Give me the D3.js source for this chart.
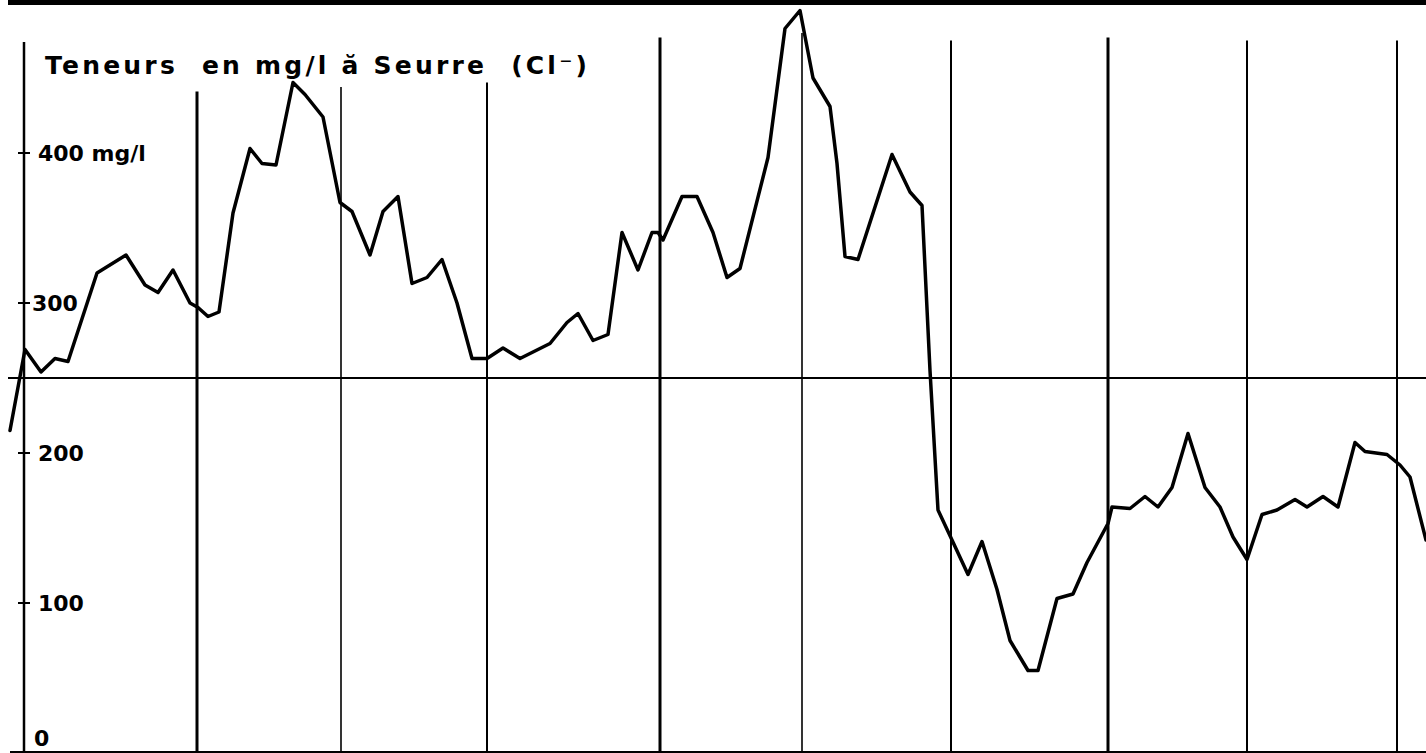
<!DOCTYPE html>
<html>
<head>
<meta charset="utf-8">
<script src="https://cdn.jsdelivr.net/npm/d3@7"></script>
<style>
    body { margin: 0; background: #fff; }
    #chart-area text { font-family: "DejaVu Sans", sans-serif; fill: #000; }
</style>
</head>
<body>
<div id="chart-area"></div>
<script>
// sample day (counted from the left axis) and chloride content in mg/l
const sampleDay = [-2.8, 0.2, 3.4, 6.2, 8.8, 14.6, 20.4, 24.2, 26.8, 29.8, 33.2, 34.8, 36.8, 39,
    41.8, 45.2, 47.6, 50.4, 53.8, 56.2, 59.8, 63.2, 65.6, 69.2, 71.8, 74.8, 77.6, 80.6, 83.6, 86.6,
    89.6, 92.6, 95.8, 99.2, 105.2, 108.6, 110.8, 113.8, 116.8, 119.6, 122.8, 125.6, 126.8, 127.8,
    131.6, 134.6, 137.8, 140.6, 143.2, 148.8, 152.2, 155.2, 157.8, 161.2, 162.6, 164.2, 166.8,
    173.6, 177.2, 179.6, 181.2, 182.8, 185.6, 188.8, 191.6, 194.6, 197.2, 200.8, 202.8, 206.6,
    209.8, 212.6, 216.8, 217.6, 221.2, 224.2, 226.8, 229.6, 232.8, 236.2, 239.2, 241.8, 244.6,
    247.6, 250.6, 254.2, 256.6, 259.8, 262.8, 266.2, 268.2, 272.6, 275.2, 277.2, 280.4];

const chlorideMgL = [215, 269, 254, 263, 261, 320, 332, 312, 307, 322, 300, 297, 291, 294,
    360, 403, 393, 392, 447, 439, 424, 367, 361, 332, 361, 371, 313, 317, 329, 300,
    263, 263, 270, 263, 273, 287, 293, 275, 279, 347, 322, 347, 347, 342,
    371, 371, 347, 317, 323, 397, 483, 495, 450, 431, 393, 331, 329,
    399, 374, 365, 255, 162, 142, 119, 141, 109, 75, 55, 55, 103,
    106, 127, 153, 164, 163, 171, 164, 177, 213, 177, 164, 144, 129,
    159, 162, 169, 164, 171, 164, 207, 201, 199, 192, 184, 142];

// vertical rulings (day) and the level where each one starts (mg/l)
const gridDays = [34.6, 63.4, 92.6, 127.2, 155.6, 185.4, 216.8, 244.6, 274.6];
const gridTops = [441, 444, 447, 477, 480, 475, 477, 475, 475];
const gridWeight = [3, 1.6, 2, 3, 1.6, 2, 3, 2, 2];

const tickValues = [400, 300, 200, 100, 0];
const tickLabels = ["400 mg/l", "300", "200", "100", "0"];
const referenceLevel = 250;
const axisTop = 474;

const titleText = "Teneurs  en mg/l ă Seurre  (Cl\u207B)";

class ChlorideChart {
    constructor(parentElement) {
        this.parentElement = parentElement;
        this.data = sampleDay.map((d, i) => ({ day: d, value: chlorideMgL[i] }));
        this.initVis();
    }

    initVis() {
        let vis = this;

        vis.width = 1426;
        vis.height = 753;

        vis.svg = d3.select("#" + vis.parentElement).append("svg")
            .attr("width", vis.width)
            .attr("height", vis.height);

        vis.x = d3.scaleLinear()
            .domain([0, 280.4])
            .range([24, 1426]);

        vis.y = d3.scaleLinear()
            .domain([0, 400])
            .range([753, 153]);

        // heavy rule along the top of the sheet
        vis.svg.append("rect")
            .attr("x", 8)
            .attr("y", 0)
            .attr("width", vis.width - 8)
            .attr("height", 5)
            .attr("fill", "#000");

        vis.updateVis();
    }

    updateVis() {
        let vis = this;

        // vertical rulings
        vis.svg.selectAll(".grid-v")
            .data(gridDays)
            .enter().append("line")
            .attr("class", "grid-v")
            .attr("x1", d => vis.x(d))
            .attr("x2", d => vis.x(d))
            .attr("y1", (d, i) => vis.y(gridTops[i]))
            .attr("y2", vis.y(0))
            .attr("stroke", "#000")
            .attr("stroke-width", (d, i) => gridWeight[i]);

        // 250 mg/l reference and base line
        vis.svg.append("line")
            .attr("x1", vis.x(-3.2)).attr("x2", vis.width)
            .attr("y1", vis.y(referenceLevel)).attr("y2", vis.y(referenceLevel))
            .attr("stroke", "#000").attr("stroke-width", 2);

        vis.svg.append("line")
            .attr("x1", vis.x(-2.8)).attr("x2", vis.width)
            .attr("y1", vis.y(0) - 1).attr("y2", vis.y(0) - 1)
            .attr("stroke", "#000").attr("stroke-width", 2);

        // y axis
        vis.svg.append("line")
            .attr("x1", vis.x(0)).attr("x2", vis.x(0))
            .attr("y1", vis.y(axisTop)).attr("y2", vis.y(0))
            .attr("stroke", "#000").attr("stroke-width", 2.5);

        let ticks = vis.svg.selectAll(".tick")
            .data(tickValues)
            .enter().append("g")
            .attr("class", "tick")
            .attr("transform", d => `translate(${vis.x(0)}, ${vis.y(d)})`);

        ticks.filter(d => d > 0).append("line")
            .attr("x1", -6).attr("x2", 6)
            .attr("stroke", "#000").attr("stroke-width", 2);

        ticks.append("text")
            .attr("x", d => d === 300 ? 8 : (d === 0 ? 10 : 14))
            .attr("y", d => d === 0 ? -7 : 8)
            .attr("font-size", 22)
            .attr("font-weight", "bold")
            .style("white-space", "pre")
            .text((d, i) => tickLabels[i]);

        // title
        vis.svg.append("text")
            .attr("x", 45)
            .attr("y", 74)
            .attr("font-size", 25)
            .attr("font-weight", "bold")
            .attr("textLength", 542)
            .attr("lengthAdjust", "spacing")
            .style("white-space", "pre")
            .text(titleText);

        // chloride curve
        vis.line = d3.line()
            .x(d => vis.x(d.day))
            .y(d => vis.y(d.value));

        vis.svg.append("path")
            .datum(vis.data)
            .attr("d", vis.line)
            .attr("fill", "none")
            .attr("stroke", "#000")
            .attr("stroke-width", 3.5)
            .attr("stroke-linejoin", "round")
            .attr("stroke-linecap", "round");
    }
}

let chart = new ChlorideChart("chart-area");
</script>
</body>
</html>
